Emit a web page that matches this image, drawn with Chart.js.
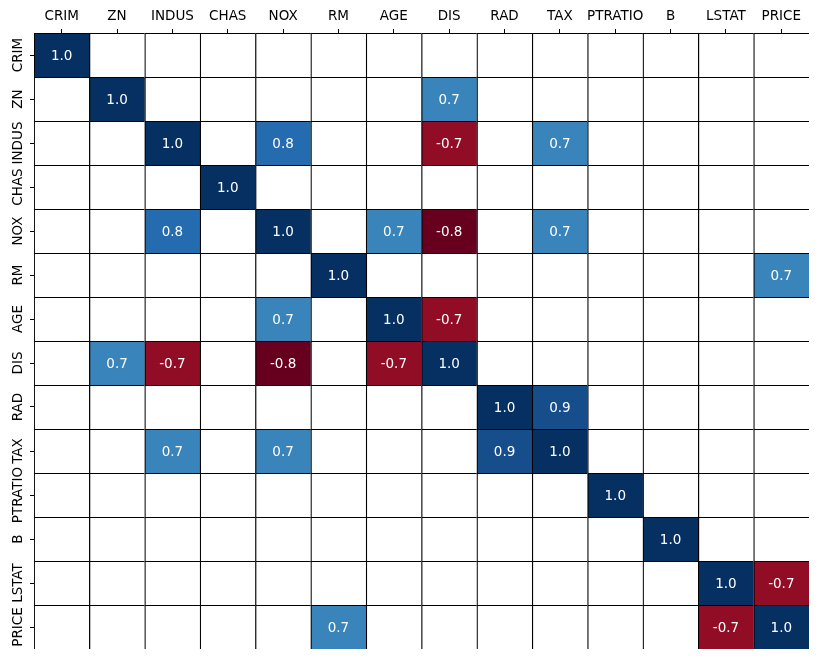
<!DOCTYPE html>
<html>
<head>
<meta charset="utf-8">
<script src="https://cdn.jsdelivr.net/npm/chart.js@4"></script>
<style>
  html, body { margin: 0; padding: 0; background: #fff; }
  canvas { display: block; }
</style>
</head>
<body>
<canvas id="heat" width="818" height="659"></canvas>
<script>
const labels = ['CRIM', 'ZN', 'INDUS', 'CHAS', 'NOX', 'RM', 'AGE', 'DIS', 'RAD', 'TAX', 'PTRATIO', 'B', 'LSTAT', 'PRICE'];

// only |r| >= 0.7 is shown, the rest is left blank
const n = null;
const corr = [
  [1.0, n, n, n, n, n, n, n, n, n, n, n, n, n],
  [n, 1.0, n, n, n, n, n, 0.7, n, n, n, n, n, n],
  [n, n, 1.0, n, 0.8, n, n, -0.7, n, 0.7, n, n, n, n],
  [n, n, n, 1.0, n, n, n, n, n, n, n, n, n, n],
  [n, n, 0.8, n, 1.0, n, 0.7, -0.8, n, 0.7, n, n, n, n],
  [n, n, n, n, n, 1.0, n, n, n, n, n, n, n, 0.7],
  [n, n, n, n, 0.7, n, 1.0, -0.7, n, n, n, n, n, n],
  [n, 0.7, -0.7, n, -0.8, n, -0.7, 1.0, n, n, n, n, n, n],
  [n, n, n, n, n, n, n, n, 1.0, 0.9, n, n, n, n],
  [n, n, 0.7, n, 0.7, n, n, n, 0.9, 1.0, n, n, n, n],
  [n, n, n, n, n, n, n, n, n, n, 1.0, n, n, n],
  [n, n, n, n, n, n, n, n, n, n, n, 1.0, n, n],
  [n, n, n, n, n, n, n, n, n, n, n, n, 1.0, -0.7],
  [n, n, n, n, n, 0.7, n, n, n, n, n, n, -0.7, 1.0]
];

const vmin = -0.8, vmax = 1.0;
const rdbu = ['#67001f', '#b2182b', '#d6604d', '#f4a582', '#fddbc7', '#f7f7f7',
              '#d1e5f0', '#92c5de', '#4393c3', '#2166ac', '#053061'];

function hex(h) {
  return [1, 3, 5].map(i => parseInt(h.slice(i, i + 2), 16));
}

function colorFor(v) {
  const t = Math.min(1, Math.max(0, (v - vmin) / (vmax - vmin))) * (rdbu.length - 1);
  const i = Math.min(rdbu.length - 2, Math.floor(t));
  const f = t - i;
  const a = hex(rdbu[i]), b = hex(rdbu[i + 1]);
  const c = a.map((x, k) => Math.round(x + (b[k] - x) * f));
  return `rgb(${c[0]},${c[1]},${c[2]})`;
}

const FONT = '13.5px "DejaVu Sans"';

/* cell values + rotated row names */
const textPlugin = {
  id: 'cellText',
  afterDatasetsDraw(chart) {
    const { ctx, scales: { x, y } } = chart;
    ctx.save();
    ctx.font = FONT;
    ctx.fillStyle = '#fff';
    ctx.textAlign = 'center';
    ctx.textBaseline = 'middle';
    corr.forEach((row, r) => {
      row.forEach((v, c) => {
        if (v === null) return;
        ctx.fillText(v.toFixed(1), x.getPixelForValue(c), y.getPixelForValue(r + 0.5) + 1);
      });
    });
    ctx.restore();
  },
  afterDraw(chart) {
    const { ctx, scales: { y } } = chart;
    ctx.save();
    ctx.font = FONT;
    ctx.fillStyle = '#000';
    ctx.textAlign = 'center';
    ctx.textBaseline = 'alphabetic';
    labels.forEach((lab, r) => {
      ctx.save();
      ctx.translate(22, y.getPixelForValue(r + 0.5));
      ctx.rotate(-Math.PI / 2);
      ctx.fillText(lab, 0, 0);
      ctx.restore();
    });
    ctx.restore();
  }
};

new Chart(document.getElementById('heat'), {
  type: 'bar',
  data: {
    labels: labels,
    datasets: corr.map((row, r) => ({
      data: row.map(() => [r, r + 1]),
      backgroundColor: row.map(v => v === null ? '#ffffff' : colorFor(v)),
      borderColor: '#000',
      borderWidth: { top: 1.25, left: 1.25, right: 0, bottom: 0 },
      borderSkipped: false,
      grouped: false,
      barPercentage: 1,
      categoryPercentage: 1
    }))
  },
  options: {
    responsive: false,
    animation: false,
    devicePixelRatio: 1,
    layout: { padding: { left: 0, top: 0, right: 9, bottom: 10 } },
    plugins: {
      legend: { display: false },
      tooltip: { enabled: false }
    },
    scales: {
      x: {
        position: 'top',
        offset: true,
        border: { display: false },
        grid: { offset: false, drawOnChartArea: false, drawTicks: true, tickLength: 4, color: '#000' },
        ticks: { font: { family: 'DejaVu Sans', size: 13.5 }, color: '#000', padding: 4, maxRotation: 0, autoSkip: false },
        afterFit(scale) { scale.height = 33; }
      },
      y: {
        type: 'linear',
        min: 0,
        max: labels.length,
        reverse: true,
        border: { display: false },
        grid: { drawOnChartArea: false, drawTicks: true, tickLength: 4, color: '#000' },
        ticks: { display: false },
        afterBuildTicks(scale) {
          scale.ticks = labels.map((_, i) => ({ value: i + 0.5 }));
        },
        afterFit(scale) { scale.width = 34; }
      }
    }
  },
  plugins: [textPlugin]
});
</script>
</body>
</html>
